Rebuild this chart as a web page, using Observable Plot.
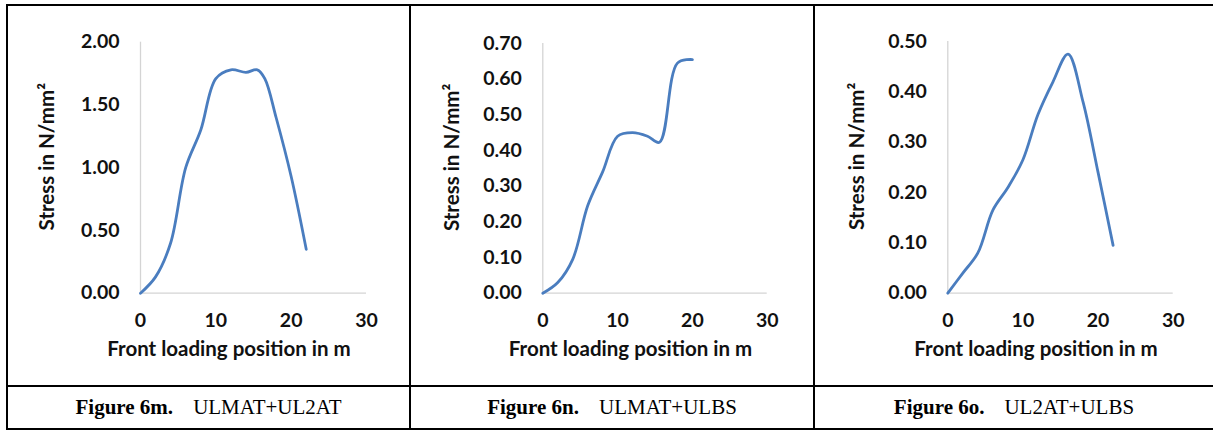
<!DOCTYPE html>
<html>
<head>
<meta charset="utf-8">
<script src="https://cdn.jsdelivr.net/npm/d3@7"></script>
<script src="https://cdn.jsdelivr.net/npm/@observablehq/plot@0.6"></script>
<style>
  body { margin: 0; background: #fff; }
  #wrap { position: relative; width: 1213px; height: 430px; overflow: hidden; background: #fff; }
  .rule { position: absolute; background: #000; z-index: 5; }
  .panel { position: absolute; top: 0; }
  .cap { position: absolute; top: 387px; height: 41px; display: flex; align-items: center; justify-content: center;
         font-family: "Liberation Serif", "Times New Roman", serif; font-size: 21px; color: #000; white-space: pre; }
  .cap b { font-weight: 700; margin-right: 20px; }
</style>
</head>
<body>
<div id="wrap"></div>
<script>
// ---- data ----
const xTicks = [0, 10, 20, 30];

const posM = [0, 2, 4, 6, 8, 10, 12, 14, 15.5, 16.5, 18, 20, 22];
const stressM = [0, 0.13, 0.40, 1.00, 1.30, 1.71, 1.78, 1.76, 1.78, 1.71, 1.40, 0.93, 0.35];
const yTicksM = [0, 0.5, 1.0, 1.5, 2.0];

const posN = [0, 2, 4, 6, 8, 10, 12, 14, 15.6, 18, 20];
const stressN = [0, 0.03, 0.095, 0.245, 0.34, 0.44, 0.45, 0.44, 0.423, 0.645, 0.655];
const yTicksN = [0, 0.1, 0.2, 0.3, 0.4, 0.5, 0.6, 0.7];

const posO = [0, 2, 4, 6, 8, 10, 12, 14, 16, 18, 20, 22];
const stressO = [0, 0.04, 0.08, 0.165, 0.21, 0.265, 0.355, 0.42, 0.475, 0.38, 0.24, 0.095];
const yTicksO = [0, 0.1, 0.2, 0.3, 0.4, 0.5];

const figLabels = ["Figure 6m.", "Figure 6n.", "Figure 6o."];
const figNames = ["ULMAT+UL2AT", "ULMAT+ULBS", "UL2AT+ULBS"];
const xLabel = "Front loading position in m";
const yLabel = "Stress in N/mm\u00B2";

// ---- layout (page pixels) ----
const panels = [
  {pos: posM, val: stressM, ticks: yTicksM, left: 8,   width: 401, xl: 140,   xr: 366,   yt: 41.7, ylx: 47},
  {pos: posN, val: stressN, ticks: yTicksN, left: 411, width: 402, xl: 542.3, xr: 766.7, yt: 43,   ylx: 451.7},
  {pos: posO, val: stressO, ticks: yTicksO, left: 815, width: 398, xl: 947.3, xr: 1172.7, yt: 41,  ylx: 856.7}
];
const H = 385, y0 = 292.7;
const wrap = document.getElementById("wrap");

panels.forEach((p, i) => {
  const data = p.pos.map((x, k) => ({x, y: p.val[k]}));
  const yMax = p.ticks[p.ticks.length - 1];
  const ml = p.xl - p.left, mr = p.left + p.width - p.xr;
  const chart = Plot.plot({
    width: p.width,
    height: H,
    marginLeft: ml,
    marginRight: mr,
    marginTop: p.yt,
    marginBottom: H - y0,
    style: {fontFamily: "Lato", fontSize: "19.5px", fontWeight: 700, color: "#111", background: "transparent", overflow: "visible"},
    x: {domain: [0, 30]},
    y: {domain: [0, yMax]},
    marks: [
      Plot.ruleX([0], {stroke: "#d4d4d4", strokeWidth: 1.3}),
      Plot.ruleY([0], {stroke: "#d4d4d4", strokeWidth: 1.3}),
      Plot.axisX({ticks: xTicks, tickSize: 0, tickPadding: 19.5, label: null, fill: "#111"}),
      Plot.axisY({ticks: p.ticks, tickSize: 0, tickPadding: 21, tickFormat: d3.format(".2f"), label: null, fill: "#111"}),
      Plot.lineY(data, {x: "x", y: "y", stroke: "#4a7dbf", strokeWidth: 2.8, curve: "catmull-rom"}),
      Plot.text([xLabel], {text: d => d, frameAnchor: "bottom", textAnchor: "middle", lineAnchor: "middle",
        dx: -24.5, dy: 56.7, fill: "#111", fontWeight: 700, fontSize: 20.5}),
      Plot.text([yLabel], {text: d => d, frameAnchor: "left", textAnchor: "middle", lineAnchor: "middle", rotate: -90,
        dx: p.ylx - p.xl, dy: -11, fill: "#111", fontWeight: 700, fontSize: 20.5})
    ]
  });
  chart.classList.add("panel");
  chart.style.left = p.left + "px";
  wrap.appendChild(chart);

  const cap = document.createElement("div");
  cap.className = "cap";
  cap.style.left = p.left + "px";
  cap.style.width = p.width + "px";
  const b = document.createElement("b");
  b.textContent = figLabels[i];
  cap.appendChild(b);
  cap.appendChild(document.createTextNode(figNames[i]));
  wrap.appendChild(cap);
});

// table borders
const rules = [
  [6, 4, 1220, 2],    // top
  [6, 385, 1220, 2],  // row divider
  [6, 428, 1220, 2],  // bottom
  [6, 4, 2, 426],     // left
  [409, 4, 2, 426],   // col divider 1
  [813, 4, 2, 426]    // col divider 2
];
rules.forEach(([l, t, w, h]) => {
  const d = document.createElement("div");
  d.className = "rule";
  Object.assign(d.style, {left: l + "px", top: t + "px", width: w + "px", height: h + "px"});
  wrap.appendChild(d);
});
</script>
</body>
</html>
